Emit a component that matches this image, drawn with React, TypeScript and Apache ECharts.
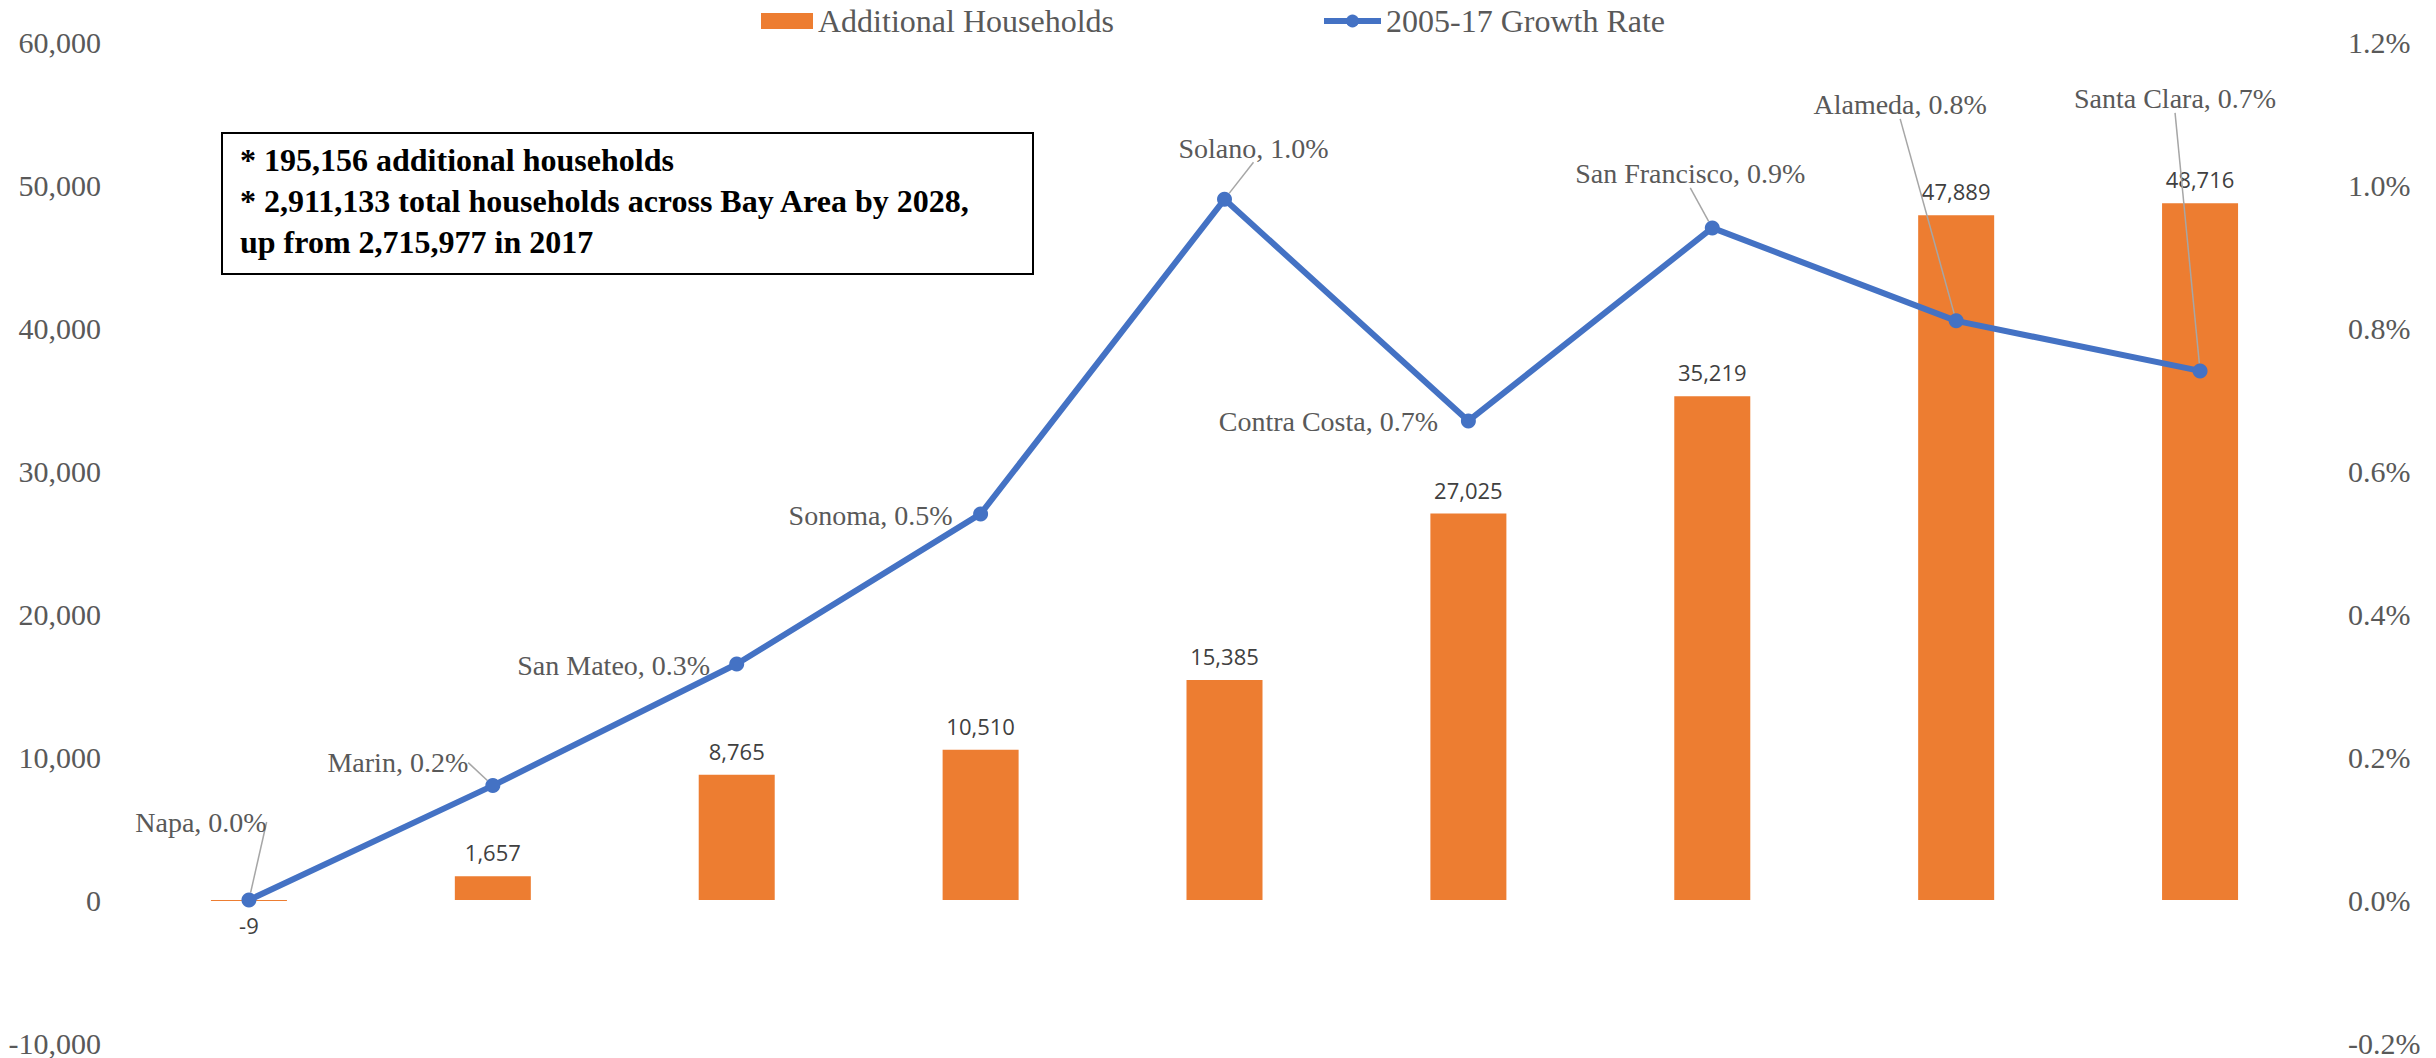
import React, { useEffect, useRef } from 'react';
import * as echarts from 'echarts';

const categories = ['Napa', 'Marin', 'San Mateo', 'Sonoma', 'Solano', 'Contra Costa', 'San Francisco', 'Alameda', 'Santa Clara'];
const additionalHouseholds = [-9, 1657, 8765, 10510, 15385, 27025, 35219, 47889, 48716];
const growthRatePct = [0.0, 0.16, 0.33, 0.54, 0.98, 0.67, 0.94, 0.81, 0.74];
const leftAxis = { min: -10000, max: 60000, interval: 10000 };
const rightAxis = { min: -0.2, max: 1.2, interval: 0.2 };
const seriesNames = ['Additional Households', '2005-17 Growth Rate'];
const noteLines = [
  '* 195,156 additional households',
  '* 2,911,133 total households across Bay Area by 2028,',
  'up from 2,715,977 in 2017',
];

// label placement (offset of label centre from point centre), layout only
const labelOffsets = [[-48, -78], [-95, -23], [-123, 1], [-110, 2], [29, -51], [-140, 1], [-22, -54], [-56, -216], [-25, -272]];
const showLeader = [true, true, false, false, true, false, true, true, true];

const SERIF = '"Liberation Serif", "Times New Roman", serif';
const GREY = '#595959';

export default function App() {
  const ref = useRef<HTMLDivElement>(null);
  useEffect(() => {
    if (!ref.current) return;
    const chart = echarts.init(ref.current, null, { renderer: 'svg' });
    const option: any = {
      animation: false,
      backgroundColor: '#ffffff',
      legend: [
        {
          data: [seriesNames[0]],
          left: 756,
          top: 0,
          itemWidth: 52,
          itemHeight: 16,
          icon: 'rect',
          textStyle: { fontFamily: SERIF, fontSize: 32, color: GREY },
        },
        {
          data: [seriesNames[1]],
          left: 1316,
          top: 0,
          itemWidth: 57,
          itemHeight: 16,
          lineStyle: { width: 6 },
          textStyle: { fontFamily: SERIF, fontSize: 32, color: GREY },
        },
      ],
      grid: { left: 127, right: 114, top: 42, bottom: 14, containLabel: false },
      xAxis: {
        type: 'category',
        data: categories,
        axisLine: { show: false },
        axisTick: { show: false },
        axisLabel: { show: false },
        splitLine: { show: false },
      },
      yAxis: [
        {
          type: 'value',
          min: leftAxis.min,
          max: leftAxis.max,
          interval: leftAxis.interval,
          axisLine: { show: false },
          axisTick: { show: false },
          splitLine: { show: false },
          axisLabel: {
            margin: 26,
            fontFamily: SERIF,
            fontSize: 30,
            color: GREY,
            formatter: (v: number) => v.toLocaleString('en-US'),
          },
        },
        {
          type: 'value',
          min: rightAxis.min,
          max: rightAxis.max,
          interval: rightAxis.interval,
          axisLine: { show: false },
          axisTick: { show: false },
          splitLine: { show: false },
          axisLabel: {
            margin: 26,
            fontFamily: SERIF,
            fontSize: 30,
            color: GREY,
            formatter: (v: number) => v.toFixed(1) + '%',
          },
        },
      ],
      series: [
        {
          name: seriesNames[0],
          type: 'bar',
          yAxisIndex: 0,
          barWidth: 76,
          barMinHeight: 1,
          itemStyle: { color: '#ED7D31' },
          data: additionalHouseholds.map((v) =>
            v < 0 ? { value: v, label: { position: 'bottom' } } : { value: v }
          ),
          label: {
            show: true,
            position: 'top',
            distance: 13,
            fontFamily: '"Open Sans", "Liberation Sans", sans-serif',
            fontSize: 22,
            color: '#404040',
            formatter: (p: any) => Number(p.value).toLocaleString('en-US'),
          },
          z: 2,
        },
        {
          name: seriesNames[1],
          type: 'line',
          yAxisIndex: 1,
          symbol: 'circle',
          symbolSize: 15,
          lineStyle: { color: '#4472C4', width: 6 },
          itemStyle: { color: '#4472C4' },
          data: growthRatePct.map((v, i) => ({ value: v, labelLine: { show: showLeader[i] } })),
          label: {
            show: true,
            position: 'top',
            fontFamily: SERIF,
            fontSize: 28,
            color: GREY,
            formatter: (p: any) => `${categories[p.dataIndex]}, ${Number(p.value).toFixed(1)}%`,
          },
          labelLine: { show: false, lineStyle: { color: '#A6A6A6', width: 1.5 } },
          labelLayout: (p: any) => {
            const [dx, dy] = labelOffsets[p.dataIndex];
            const cx = p.rect.x + p.rect.width / 2;
            const cy = p.rect.y + p.rect.height / 2;
            return { x: cx + dx, y: cy + dy, align: 'center', verticalAlign: 'middle' };
          },
          z: 3,
        },
      ],
      graphic: [
        {
          type: 'group',
          left: 221,
          top: 132,
          children: [
            {
              type: 'rect',
              shape: { x: 0, y: 0, width: 811, height: 141 },
              style: { fill: '#ffffff', stroke: '#000000', lineWidth: 2 },
            },
            {
              type: 'text',
              x: 18,
              y: 6,
              style: {
                text: noteLines.join('\n'),
                font: `bold 32px ${SERIF}`,
                lineHeight: 41,
                fill: '#000000',
              },
            },
          ],
        },
      ],
    };
    chart.setOption(option);
    return () => chart.dispose();
  }, []);
  return (
    <div
      ref={ref}
      style={{ position: 'fixed', left: 0, top: 0, width: 2436, height: 1058, background: '#fff' }}
    />
  );
}
